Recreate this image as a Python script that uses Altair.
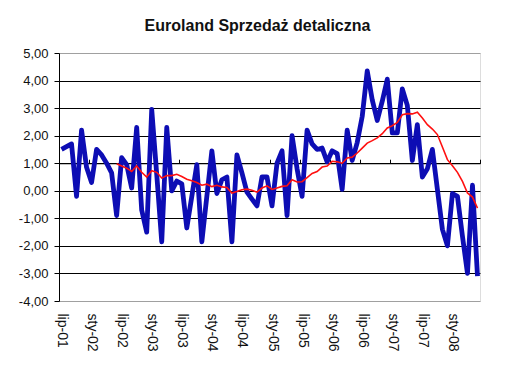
import altair as alt
import pandas as pd

title_text = "Euroland Sprzedaż detaliczna"

x_labels = ["lip-01", "sty-02", "lip-02", "sty-03", "lip-03", "sty-04", "lip-04",
            "sty-05", "lip-05", "sty-06", "lip-06", "sty-07", "lip-07", "sty-08"]

# monthly values, lip-01 .. cze-08
blue = [1.5, 1.6, 1.7, -0.2, 2.2, 0.85, 0.3, 1.5, 1.3, 1.0, 0.65, -0.9,
        1.2, 0.95, 0.1, 2.3, -0.7, -1.5, 2.95, 0.6, -1.85, 2.3, 0.0, 0.35,
        0.25, -1.35, -0.2, 0.95, -1.85, -0.2, 1.45, -0.1, 0.4, 0.5, -1.85, 1.3,
        0.65, -0.05, -0.3, -0.55, 0.5, 0.5, -0.55, 1.0, 1.45, -0.9, 2.0, 0.8,
        -0.2, 2.2, 1.7, 1.5, 1.55, 1.05, 1.45, 1.35, 0.05, 2.2, 1.1, 1.75,
        2.7, 4.35, 3.3, 2.55, 3.25, 4.05, 2.1, 2.1, 3.7, 3.1, 1.1, 2.4,
        0.5, 0.8, 1.5, 0.05, -1.4, -2.0, -0.1, -0.2, -1.65, -3.0, 0.2, -3.1]

# red series starts at the 12th month
red_start = 11
red = [0.98, 0.9, 0.82, 0.7, 0.9, 0.67, 0.5, 0.73, 0.67, 0.46, 0.55, 0.55,
       0.6, 0.52, 0.42, 0.36, 0.3, 0.2, 0.24, 0.15, 0.2, 0.14, 0.12, -0.08,
       -0.03, 0.04, 0.06, 0.02, -0.05, 0.1, 0.18, 0.05, 0.1, 0.16, 0.18, 0.4,
       0.32, 0.33, 0.48, 0.63, 0.7, 0.86, 0.9, 1.07, 1.05, 1.0, 1.19, 1.22,
       1.37, 1.55, 1.73, 1.82, 1.92, 2.07, 2.28, 2.36, 2.48, 2.76, 2.8, 2.79,
       2.85, 2.64, 2.4, 2.24, 2.04, 1.59, 1.13, 0.91, 0.67, 0.34, -0.08, -0.23,
       -0.63]

y_ticks = list(range(-4, 6))

n = len(blue)
step = 6
df_blue = pd.DataFrame({"idx": list(range(n)), "v": blue})
df_red = pd.DataFrame({"idx": list(range(red_start, red_start + len(red))), "v": red})

W, H = 421, 248
FONT = "Liberation Sans"

xscale = alt.Scale(domain=[-0.5, n - 0.5], nice=False, zero=False)
yscale = alt.Scale(domain=[y_ticks[0], y_ticks[-1]], nice=False, zero=False)

label_expr = "[" + ",".join("'%s'" % s for s in x_labels) + "][round(datum.value/%d)]" % step

y_axis = alt.Axis(
    values=y_ticks,
    labelExpr="(datum.value < 0 ? '-' : '') + replace(format(abs(datum.value), '.2f'), '.', ',')",
    grid=True,
    gridColor={"condition": {"test": "datum.value >= %d || datum.value <= %d" % (y_ticks[-1], y_ticks[0]),
                             "value": "#a0a0a0"}, "value": "#000000"},
    gridWidth=1,
    domainColor="#000000",
    tickColor="#000000",
    tickSize=5,
    labelPadding=6,
    labelFont=FONT,
    labelFontSize=13,
    labelColor="#111111",
    title=None,
)

label_axis = alt.Axis(
    values=[step * k for k in range(len(x_labels))],
    labelExpr=label_expr,
    labelAngle=90,
    labelAlign="left",
    labelBaseline="middle",
    ticks=False,
    domain=False,
    grid=False,
    labelPadding=12,
    labelFont=FONT,
    labelFontSize=14,
    labelColor="#111111",
    labelOverlap=False,
    title=None,
)

zero_frac = (0 - y_ticks[0]) / (y_ticks[-1] - y_ticks[0])
zero_axis = alt.Axis(
    values=[step * k - 0.5 for k in range(len(x_labels) + 1)],
    labels=False,
    ticks=True,
    tickSize=4,
    tickColor="#000000",
    domain=True,
    domainColor="#000000",
    domainWidth=1.2,
    grid=False,
    offset=-H * zero_frac,
    title=None,
)

blue_line = alt.Chart(df_blue).mark_line(
    color="#0d0db4", strokeWidth=4.8, strokeJoin="round"
).encode(
    x=alt.X("idx:Q", scale=xscale, axis=label_axis),
    y=alt.Y("v:Q", scale=yscale, axis=y_axis),
)

red_line = alt.Chart(df_red).mark_line(
    color="#ff1010", strokeWidth=1.6
).encode(
    x=alt.X("idx:Q", scale=xscale, axis=zero_axis),
    y=alt.Y("v:Q", scale=yscale, axis=y_axis),
)

chart = alt.layer(blue_line, red_line).resolve_axis(x="independent").properties(
    width=W,
    height=H,
    title=alt.TitleParams(
        text=title_text, font=FONT, fontSize=16, fontWeight="bold",
        color="#111111", anchor="middle", offset=13, dx=-12,
    ),
    autosize=alt.AutoSizeParams(type="none"),
    padding={"left": 51, "top": 45, "right": 10, "bottom": 58},
).configure_view(
    stroke="#a0a0a0", strokeWidth=1
).configure(background="white")

chart.save("out.html", embed_options={"renderer": "svg", "actions": False})
